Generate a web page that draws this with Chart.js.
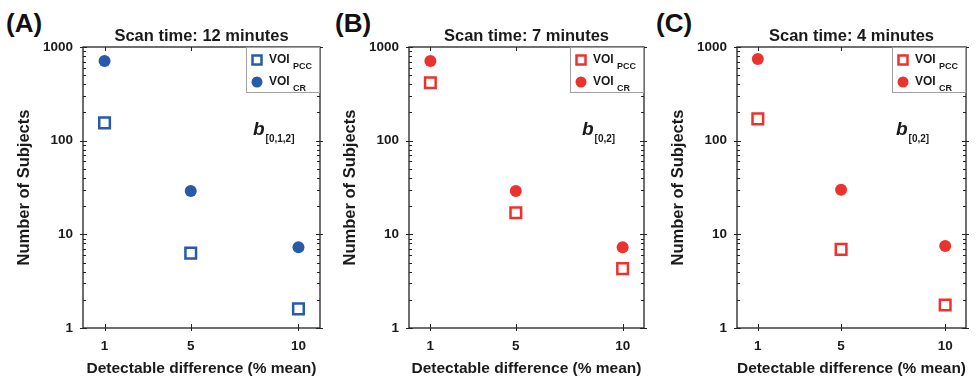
<!DOCTYPE html>
<html>
<head>
<meta charset="utf-8">
<script src="https://cdn.jsdelivr.net/npm/chart.js@4.4.1/dist/chart.umd.min.js"></script>
<style>
  body { margin: 0; background: #fff; width: 976px; height: 376px; position: relative; overflow: hidden; font-family: "Liberation Sans", Arial, sans-serif; }
  canvas { position: absolute; top: 0; }
  .tag { position: absolute; top: 10px; font-weight: bold; font-size: 26px; line-height: 1; color: #111; }
</style>
</head>
<body>
<div class="tag" style="left:6px">(A)</div>
<div class="tag" style="left:335px">(B)</div>
<div class="tag" style="left:656px">(C)</div>
<canvas id="panelA" width="330" height="376" style="left:0px"></canvas>
<canvas id="panelB" width="328" height="376" style="left:326px"></canvas>
<canvas id="panelC" width="322" height="376" style="left:654px"></canvas>
<script>
// data
const detectDiff = [1, 5, 10]
const xTickValues = [1, 5, 10]
const yTickValues = [1, 10, 100, 1000]
const panelTitles = ["Scan time: 12 minutes", "Scan time: 7 minutes", "Scan time: 4 minutes"]
const pcc12 = [155, 6.3, 1.6]
const cr12 = [710, 29, 7.3]
const pcc7 = [415, 17, 4.3]
const cr7 = [710, 29, 7.3]
const pcc4 = [171, 6.9, 1.76]
const cr4 = [745, 30, 7.5]
const legendNames = ["VOI", "VOI"]
const legendSubs = ["PCC", "CR"]
const bSubs = ["[0,1,2]", "[0,2]", "[0,2]"]

const BLUE = "rgb(40, 90, 170)"
const RED = "rgb(236, 50, 46)"
const INK = "#1a1a1a"
const FAMILY = '"Liberation Sans", Arial, sans-serif'

Chart.defaults.font.family = FAMILY
Chart.defaults.color = INK

const decorPlugin = {
  id: 'decor',
  afterDraw(chart, args, opts) {
    const ctx = chart.ctx
    const a = chart.chartArea
    const x = chart.scales.x
    const y = chart.scales.y

    ctx.save()
    // frame
    ctx.strokeStyle = "#222"
    ctx.lineWidth = 1.3
    ctx.strokeRect(a.left, a.top, a.right - a.left, a.bottom - a.top)

    // log ticks on left and right, pointing inward
    ctx.lineWidth = 1
    ctx.beginPath()
    for (let d = 1; d <= 1000; d *= 10) {
      const py = Math.round(y.getPixelForValue(d)) + 0.5
      ctx.moveTo(a.left - 3, py); ctx.lineTo(a.left + 4, py)
      ctx.moveTo(a.right - 4, py); ctx.lineTo(a.right + 3, py)
      if (d === 1000) break
      for (let k = 2; k <= 9; k++) {
        const pm = Math.round(y.getPixelForValue(d * k)) + 0.5
        ctx.moveTo(a.left, pm); ctx.lineTo(a.left + 3, pm)
        ctx.moveTo(a.right - 3, pm); ctx.lineTo(a.right, pm)
      }
    }
    xTickValues.forEach(v => {
      const px = Math.round(x.getPixelForValue(v)) + 0.5
      ctx.moveTo(px, a.bottom + 3); ctx.lineTo(px, a.bottom - 4)
      ctx.moveTo(px, a.top); ctx.lineTo(px, a.top + 4)
    })
    ctx.stroke()

    // panel title centred on the plot
    ctx.fillStyle = INK
    ctx.textAlign = "center"
    ctx.textBaseline = "alphabetic"
    ctx.font = `bold 16.5px ${FAMILY}`
    ctx.fillText(opts.title, (a.left + a.right) / 2, 41)

    // b annotation
    ctx.textAlign = "left"
    ctx.font = `italic bold 19px ${FAMILY}`
    const bx = a.right - opts.bOffset
    ctx.fillText("b", bx, 135)
    const bw = ctx.measureText("b").width
    ctx.font = `bold 10px ${FAMILY}`
    ctx.fillText(opts.bSub, bx + bw + 1, 142)

    // legend box
    const w = 74, h = 46
    const lx = a.right - w, ly = a.top
    ctx.fillStyle = "#fff"
    ctx.fillRect(lx, ly, w, h)
    ctx.strokeStyle = "#a0a0a0"
    ctx.lineWidth = 1
    ctx.strokeRect(lx + 0.5, ly + 0.5, w - 1, h - 1)

    const rows = [ly + 13, ly + 35]
    // square marker
    ctx.strokeStyle = opts.color
    ctx.lineWidth = 2.5
    ctx.strokeRect(lx + 11 - 4.5, rows[0] - 4.5, 9, 9)
    // round marker
    ctx.fillStyle = opts.color
    ctx.beginPath()
    ctx.arc(lx + 11, rows[1], 5.5, 0, Math.PI * 2)
    ctx.fill()

    ctx.fillStyle = INK
    rows.forEach((ry, i) => {
      ctx.font = `bold 12px ${FAMILY}`
      ctx.fillText(legendNames[i], lx + 23, ry + 3)
      const tw = ctx.measureText(legendNames[i] + " ").width
      ctx.font = `bold 9px ${FAMILY}`
      ctx.fillText(legendSubs[i], lx + 23 + tw, ry + 9)
    })
    ctx.restore()
  }
}

function makePanel(id, title, pcc, cr, color, bSub, bOffset, rightPad) {
  new Chart(document.getElementById(id), {
    type: "scatter",
    data: {
      datasets: [
        {
          label: "VOI PCC",
          data: detectDiff.map((v, i) => ({ x: v, y: pcc[i] })),
          pointStyle: "rect",
          pointRadius: 7.5,
          borderWidth: 2.5,
          borderColor: color,
          backgroundColor: "#fff"
        },
        {
          label: "VOI CR",
          data: detectDiff.map((v, i) => ({ x: v, y: cr[i] })),
          pointStyle: "circle",
          pointRadius: 6,
          borderWidth: 0,
          borderColor: color,
          backgroundColor: color
        }
      ]
    },
    options: {
      responsive: false,
      animation: false,
      events: [],
      layout: { padding: { top: 47, right: rightPad, bottom: 0, left: 0 } },
      plugins: {
        legend: { display: false },
        tooltip: { enabled: false },
        decor: { title: title, color: color, bSub: bSub, bOffset: bOffset }
      },
      scales: {
        x: {
          type: "linear",
          min: 0,
          max: 11,
          afterBuildTicks: s => { s.ticks = xTickValues.map(v => ({ value: v })) },
          afterFit: s => { s.height = 48 },
          grid: { display: false, drawTicks: false },
          border: { display: false },
          ticks: {
            autoSkip: false,
            maxRotation: 0,
            padding: 10,
            color: INK,
            font: { size: 13.5, weight: "bold" }
          },
          title: {
            display: true,
            text: "Detectable difference (% mean)",
            color: INK,
            padding: 0,
            font: { size: 15.5, weight: "bold", lineHeight: 1 }
          }
        },
        y: {
          type: "logarithmic",
          min: 1,
          max: 1000,
          afterBuildTicks: s => { s.ticks = yTickValues.map(v => ({ value: v })) },
          afterFit: s => { s.width = 83 },
          grid: { display: false, drawTicks: false },
          border: { display: false },
          ticks: {
            autoSkip: false,
            padding: 10,
            color: INK,
            font: { size: 13.5, weight: "bold" },
            callback: v => String(v)
          },
          title: {
            display: true,
            text: "Number of Subjects",
            color: INK,
            padding: { top: 16, bottom: 0 },
            font: { size: 16.5, weight: "bold", lineHeight: 1 }
          }
        }
      }
    },
    plugins: [decorPlugin]
  })
}

makePanel("panelA", panelTitles[0], pcc12, cr12, BLUE, bSubs[0], 67, 10)
makePanel("panelB", panelTitles[1], pcc7, cr7, RED, bSubs[1], 62, 8)
makePanel("panelC", panelTitles[2], pcc4, cr4, RED, bSubs[2], 70, 1)
</script>
</body>
</html>
